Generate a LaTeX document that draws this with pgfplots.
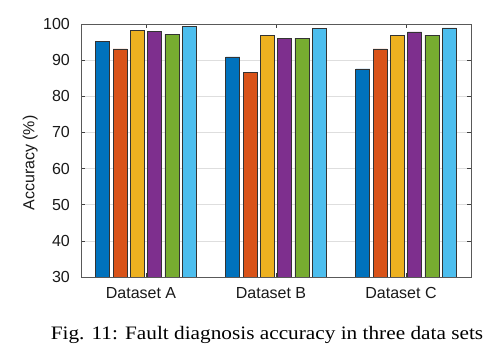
\documentclass[border=0pt]{standalone}
\usepackage{pgfplots}
\pgfplotsset{compat=1.18}
\usepackage{fontspec}
\setmainfont{Liberation Sans}
\newfontfamily\capfont{Liberation Serif}
\definecolor{c1}{rgb}{0,0.447,0.741}
\definecolor{c2}{rgb}{0.850,0.325,0.098}
\definecolor{c3}{rgb}{0.929,0.694,0.125}
\definecolor{c4}{rgb}{0.494,0.184,0.556}
\definecolor{c5}{rgb}{0.466,0.674,0.188}
\definecolor{c6}{rgb}{0.301,0.745,0.933}
\begin{document}
\begin{tikzpicture}
\useasboundingbox (0pt,0pt) rectangle (500pt,353pt);
\begin{axis}[
  at={(81pt,76pt)}, anchor=south west,
  width=390pt, height=253pt, scale only axis,
  ybar=3.3pt, bar width=14pt,
  xmin=0.5, xmax=3.5, ymin=30, ymax=100,
  xtick={1,2,3}, xticklabels={Dataset A,Dataset B,Dataset C},
  ytick={30,40,50,60,70,80,90,100},
  tick align=inside, major tick length=4pt,
  tick style={black!75, line width=0.6pt},
  axis line style={black!65, line width=0.8pt},
  ymajorgrids, grid style={black!13, line width=0.6pt},
  /pgf/number format/assume math mode=true,
  tick label style={font=\fontsize{16}{19}\selectfont, text=black!90},
  xticklabel style={anchor=base, yshift=-22pt, xshift=-5pt},
  yticklabel style={anchor=east, inner sep=0pt, xshift=-11pt},
  ylabel={Accuracy (\%)},
  ylabel style={at={(axis description cs:-0.1197,0.4506)}, anchor=base, font=\fontsize{16}{19}\selectfont, text=black!90},
  every axis plot/.append style={draw=black!80, line width=0.6pt},
]
\addplot[fill=c1] coordinates {(1,95.2) (2,90.9) (3,87.6)};
\addplot[fill=c2] coordinates {(1,93.1) (2,86.5) (3,93.1)};
\addplot[fill=c3] coordinates {(1,98.3) (2,96.8) (3,96.9)};
\addplot[fill=c4] coordinates {(1,98.0) (2,96.1) (3,97.8)};
\addplot[fill=c5] coordinates {(1,97.1) (2,96.1) (3,96.9)};
\addplot[fill=c6] coordinates {(1,99.4) (2,98.8) (3,98.9)};
\end{axis}
\node[anchor=base, inner sep=0pt] at (267pt,13.7pt) {\scalebox{1.12}[1]{\capfont\fontsize{19}{22}\selectfont Fig. 11: Fault diagnosis accuracy in three data sets}};
\end{tikzpicture}
\end{document}
